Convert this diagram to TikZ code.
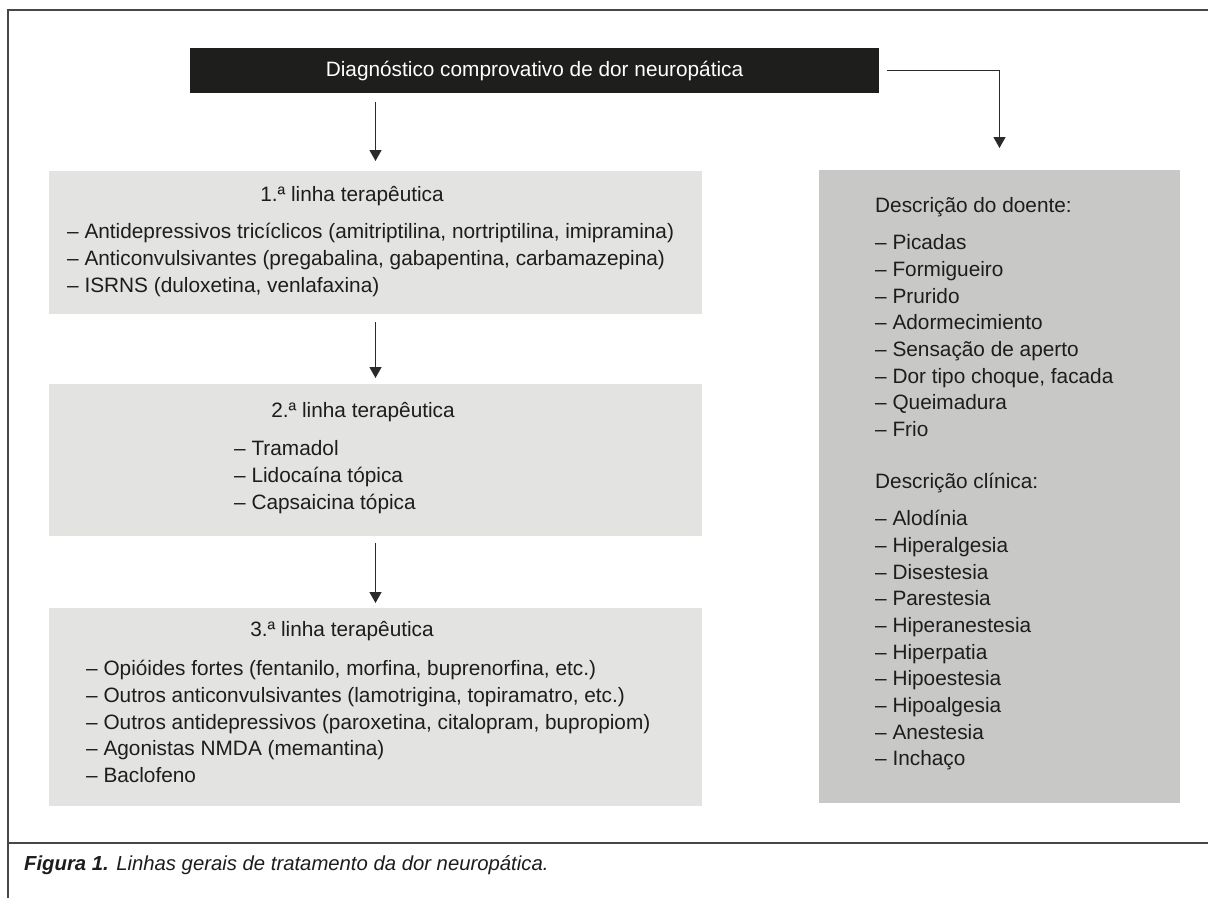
\documentclass[tikz,border=0pt]{standalone}
\usepackage{fontspec}
\setmainfont{Liberation Sans}
\usetikzlibrary{arrows.meta,calc}
\definecolor{blk}{HTML}{1E1E1C}
\definecolor{lite}{HTML}{E3E3E2}
\definecolor{midg}{HTML}{C8C8C7}
\definecolor{ink}{HTML}{1F1C1D}
\definecolor{frm}{HTML}{474747}
\definecolor{arr}{HTML}{2A2A2A}
\newcommand{\fs}{\fontsize{20.8}{26.7}\selectfont}
\newcommand{\fc}{\fontsize{20.3}{26}\selectfont}
\tikzset{
  boxbase/.style={inner sep=0pt, outer sep=0pt, draw=none, anchor=north west},
  lbox/.style={boxbase, fill=lite},
  dbox/.style={boxbase, fill=midg},
  lab/.style={font=\fs, text=ink, inner sep=0pt, anchor=mid west},
  ttl/.style={font=\fs, text=ink, inner sep=0pt, anchor=mid},
  conn/.style={draw=arr, line width=1.3pt, -{Triangle[width=12pt,length=11pt]}},
  frameline/.style={draw=frm, line width=1.6pt}
}
\begin{document}
\begin{tikzpicture}[x=1pt,y=-1pt]
\useasboundingbox (0,0) rectangle (1208,898);
\fill[white] (0,0) rectangle (1208,898);
% frame
\draw[frameline] (1208,10) -- (8,10) -- (8,898);
\draw[frameline] (8,843) -- (1208,843);
% boxes
\node[boxbase, fill=blk, minimum width=689pt, minimum height=45pt, text=white, font=\fs] (diag) at (190,48) {Diagnóstico comprovativo de dor neuropática};
\node[lbox, minimum width=653pt, minimum height=143pt] (b1) at (49,171) {};
\node[lbox, minimum width=653pt, minimum height=152pt] (b2) at (49,384) {};
\node[lbox, minimum width=653pt, minimum height=198pt] (b3) at (49,608) {};
\node[dbox, minimum width=361pt, minimum height=633pt] (desc) at (819,170) {};
% box 1 text
\node[ttl] (t1) at (352,199) {1.ª linha terapêutica};
\node[lab] (i1a) at (67,236) {– Antidepressivos tricíclicos (amitriptilina, nortriptilina, imipramina)};
\node[lab] (i1b) at (67,262.7) {– Anticonvulsivantes (pregabalina, gabapentina, carbamazepina)};
\node[lab] (i1c) at (67,289.4) {– ISRNS (duloxetina, venlafaxina)};
% box 2 text
\node[ttl] (t2) at (363,415) {2.ª linha terapêutica};
\node[lab] (i2a) at (234,453) {– Tramadol};
\node[lab] (i2b) at (234,479.7) {– Lidocaína tópica};
\node[lab] (i2c) at (234,506.4) {– Capsaicina tópica};
% box 3 text
\node[ttl] (t3) at (342,634) {3.ª linha terapêutica};
\node[lab] (i3a) at (86,673) {– Opióides fortes (fentanilo, morfina, buprenorfina, etc.)};
\node[lab] (i3b) at (86,699.7) {– Outros anticonvulsivantes (lamotrigina, topiramatro, etc.)};
\node[lab] (i3c) at (86,726.4) {– Outros antidepressivos (paroxetina, citalopram, bupropiom)};
\node[lab] (i3d) at (86,753.1) {– Agonistas NMDA (memantina)};
\node[lab] (i3e) at (86,779.8) {– Baclofeno};
% right box text
\node[lab] (h1) at (875,210) {Descrição do doente:};
\foreach \t [count=\k from 0] in {Picadas,Formigueiro,Prurido,Adormecimiento,Sensação de aperto,{Dor tipo choque, facada},Queimadura,Frio}
  \node[lab] (p\k) at (875,247+26.7*\k) {– \t};
\node[lab] (h2) at (875,486) {Descrição clínica:};
\foreach \t [count=\k from 0] in {Alodínia,Hiperalgesia,Disestesia,Parestesia,Hiperanestesia,Hiperpatia,Hipoestesia,Hipoalgesia,Anestesia,Inchaço}
  \node[lab] (c\k) at (875,523+26.7*\k) {– \t};
% connectors
\draw[conn] ($(b1.north |- diag.south)+(0,9)$) -- ($(b1.north)+(0,-10)$);
\draw[conn] ($(b1.south)+(0,8)$) -- ($(b2.north)+(0,-6)$);
\draw[conn] ($(b2.south)+(0,7)$) -- ($(b3.north)+(0,-5)$);
\draw[conn] ($(diag.east)+(8,0)$) -| ($(desc.north)+(0,-22)$);
% caption
\node[lab, font=\fc] (cap) at (24,868) {\textbf{\textit{Figura 1.}} \textit{Linhas gerais de tratamento da dor neuropática.}};
\end{tikzpicture}
\end{document}
